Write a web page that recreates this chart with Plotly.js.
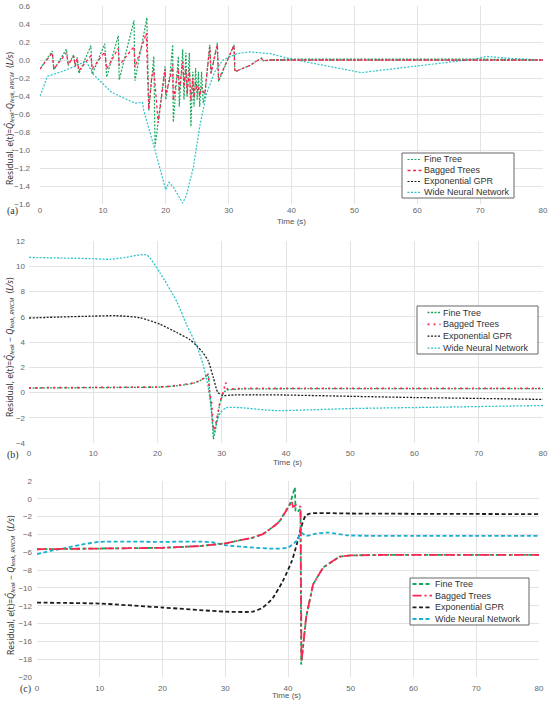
<!DOCTYPE html>
<html>
<head>
<meta charset="utf-8">
<script src="https://cdn.plot.ly/plotly-3.0.1.min.js"></script>
<style>html,body{margin:0;padding:0;background:#fff;}#chart{width:550px;height:701px;}</style>
</head>
<body>
<div id="chart"></div>
<script>
// ---------- Panel (a) ----------
const ftA_t = [0,1.95,2.2,4.2,4.5,5.35,5.6,5.9,6.2,8.1,8.3,10.3,10.6,12.45,12.6,14.95,15.1,17.0,17.3,17.75,18.1,18.3,19.9,20.0,20.7,21.1,21.2,22.0,22.15,22.7,22.9,23.2,23.4,23.75,24.0,24.3,24.5,24.75,25.0,25.2,25.4,25.7,25.95,26.2,27.0,27.2,28.2,28.4,30.85,31.0,33.4,34.7,35.2,35.5,36.5,40,50,60,70,80];
const ftA_v = [-0.1,0.1,-0.11,0.12,-0.06,0.06,-0.06,0.03,-0.15,0.16,-0.16,0.18,-0.19,0.27,-0.22,0.44,-0.23,0.47,-0.56,-0.22,0.04,-0.96,-0.07,-0.44,-0.15,0.17,-0.69,0.04,-0.52,0.12,-0.44,0.08,-0.41,0.08,-0.74,-0.13,-0.52,-0.09,-0.44,-0.13,-0.52,-0.13,-0.48,-0.41,0.17,-0.15,0.19,-0.24,0.17,-0.13,-0.06,0.0,0.02,-0.01,0.0,0.01,0.01,0.01,0.01,0.0];
const bgA_t = [0,1.95,2.2,4.2,4.5,5.35,5.6,5.9,6.2,8.1,8.3,10.3,10.6,12.45,12.6,14.95,15.1,16.9,17.3,17.75,18.1,18.8,19.9,20.0,20.7,21.1,21.2,22.0,22.15,22.7,22.9,23.2,23.4,23.75,24.0,24.3,24.5,24.75,25.0,25.2,25.4,25.7,25.95,26.2,27.0,27.2,28.2,28.4,30.85,31.0,33.4,34.7,35.2,35.5,36.5,40,50,60,70,80];
const bgA_v = [-0.1,0.08,-0.1,0.08,-0.05,0.04,-0.07,0.02,-0.12,0.05,-0.1,0.09,-0.1,0.13,-0.06,0.15,-0.08,0.3,-0.55,-0.2,-0.1,-0.7,-0.1,-0.38,-0.2,-0.05,-0.45,-0.1,-0.35,-0.02,-0.3,-0.1,-0.38,-0.1,-0.45,-0.2,-0.42,-0.25,-0.35,-0.3,-0.4,-0.3,-0.35,-0.38,0.15,-0.15,0.17,-0.22,0.16,-0.13,-0.06,0.0,0.02,-0.01,0.0,0.0,0.0,0.0,0.0,0.0];
const egA_t = [36.5,40,50,60,70,80];
const egA_v = [0.0,0.0,0.0,0.0,0.0,0.0];
const wnA_t = [0,1.2,3.4,5.6,7.3,8.5,11.4,13.0,15.1,16.3,16.5,18.0,19.1,20.0,20.5,21.2,22.7,23.3,24.4,25.4,26.5,27.8,29.1,31.3,33.4,36.6,40,51.1,69.2,71.0,74.4,80];
const wnA_v = [-0.4,-0.18,-0.13,-0.07,-0.01,-0.16,-0.36,-0.41,-0.48,-0.47,-0.56,-0.93,-1.22,-1.44,-1.36,-1.41,-1.59,-1.5,-1.19,-0.74,-0.37,-0.13,0.0,0.07,0.09,0.07,0.01,-0.14,0.01,0.04,0.02,0.0];

// ---------- Panel (b) ----------
const ftB_t = [0,10,20,22,24,25.5,26.5,27.3,27.9,28.1,28.4,28.7,29.1,29.7,30.3,31,33,40,50,60,70,80];
const ftB_v = [0.35,0.37,0.42,0.48,0.58,0.72,0.9,1.15,1.5,0.2,-1.4,-3.7,-2.7,-0.85,0.05,0.22,0.28,0.3,0.3,0.3,0.3,0.3];
const bgB_t = [0,10,20,22,24,25.5,26.5,27.3,27.9,28.1,28.4,28.75,29.1,29.7,30.3,30.6,30.9,31.5,33,40,50,60,70,80];
const bgB_v = [0.37,0.38,0.43,0.49,0.6,0.74,0.92,1.15,1.45,0.0,-0.7,-3.0,-2.4,-0.8,0.15,0.8,0.25,0.28,0.32,0.33,0.33,0.33,0.33,0.33];
const egB_t = [0,5,10,13.6,17.3,20.4,23.0,25.0,26.1,27.0,27.9,28.7,29.4,30.2,31.5,35,40,50,60,70,80];
const egB_v = [5.9,5.98,6.05,6.08,5.92,5.4,4.75,4.2,3.7,3.2,2.5,1.16,0.0,-0.24,-0.2,-0.18,-0.2,-0.3,-0.4,-0.47,-0.55];
const wnB_t = [0,5,10,12.6,15,18.3,20.4,23.0,24.5,26.1,27.1,27.9,28.4,28.8,29.2,29.8,30.7,32.8,38.3,50.2,64.2,80];
const wnB_v = [10.7,10.65,10.6,10.55,10.7,10.9,9.46,7.2,5.4,3.7,2.2,0.4,-1.5,-3.3,-2.4,-1.6,-1.2,-1.2,-1.43,-1.27,-1.16,-1.03];

// ---------- Panel (c) ----------
const ftC_t = [0,10,20,26,30,34.4,36.0,37.9,38.7,40.3,41.1,41.2,41.5,41.9,42.0,42.1,42.9,44.0,45.6,48.2,50,55,60,70,80];
const ftC_v = [-5.66,-5.6,-5.5,-5.3,-5.0,-4.35,-3.97,-3.0,-2.47,-0.6,1.27,-1.35,-1.5,-1.16,-1.7,-18.6,-13.3,-9.6,-7.7,-6.5,-6.35,-6.3,-6.3,-6.3,-6.3];
const bgC_t = [0,10,20,26,30,34.4,36.0,37.9,38.7,40.6,40.8,41.3,41.6,42.0,42.15,42.9,44.0,45.6,48.2,50,55,60,70,80];
const bgC_v = [-5.66,-5.6,-5.5,-5.3,-5.0,-4.35,-3.97,-3.0,-2.5,-0.3,-0.9,-0.7,-0.8,-0.9,-18.2,-13.2,-9.6,-7.7,-6.5,-6.35,-6.3,-6.3,-6.3,-6.3];
const egC_t = [0,10,20,30,34.4,36.0,37.6,39.2,40.6,41.4,42.1,42.8,43.5,50,60,70,80];
const egC_v = [-11.65,-11.76,-12.2,-12.66,-12.66,-12.2,-11.1,-9.2,-7.0,-5.1,-3.2,-1.9,-1.65,-1.65,-1.68,-1.7,-1.72];
const wnC_t = [0,2.5,4.7,7,10,20,26,28.1,30,34,37.9,40.0,41.4,42.1,42.9,44.5,46.4,49.6,60,70,80];
const wnC_v = [-6.2,-5.8,-5.5,-5.15,-4.83,-4.83,-4.8,-4.9,-5.2,-5.45,-5.6,-5.47,-4.7,-3.8,-4.16,-3.9,-3.79,-4.1,-4.16,-4.16,-4.16];

const seriesNames = ['Fine Tree','Bagged Trees','Exponential GPR','Wide Neural Network'];
const xTicks = [0,10,20,30,40,50,60,70,80];

const GREEN = '#13a85a', RED = '#ff2553', BLACK = '#1e1e1e', CYAN = '#2cc3c8', BLUE2 = '#1aaed0';
const SANS = '"Liberation Sans",Arial,sans-serif';

// styles per panel: [Fine Tree, Bagged Trees, Exponential GPR, Wide NN]
const styleA = [
  {color: GREEN, dash: '2px,1.5px', width: 1.2},
  {color: RED, dash: '3px,2.5px', width: 1.3},
  {color: BLACK, dash: '2px,1.5px', width: 1.2},
  {color: CYAN, dash: '2px,1.5px', width: 1.2}];
const styleB = [
  {color: GREEN, dash: '2px,1.5px', width: 1.3},
  {color: RED, dash: '2px,4px', width: 1.7},
  {color: BLACK, dash: '2px,1.5px', width: 1.3},
  {color: CYAN, dash: '2px,1.5px', width: 1.3}];
const styleC = [
  {color: GREEN, dash: '4px,2.5px', width: 1.8},
  {color: RED, dash: '9px,3px,2px,3px', width: 1.8},
  {color: BLACK, dash: '4px,2.5px', width: 1.8},
  {color: BLUE2, dash: '4px,2.5px', width: 1.8}];

function tr(x, y, idx, st, xa, ya, shape) {
  return {x: x, y: y, name: seriesNames[idx], type: 'scatter', mode: 'lines', xaxis: xa, yaxis: ya,
    showlegend: false,
    line: {color: st[idx].color, dash: st[idx].dash, width: st[idx].width, shape: shape || 'linear', smoothing: 0.6}};
}

const traces = [
  tr(egA_t, egA_v, 2, styleA, 'x', 'y'),
  tr(wnA_t, wnA_v, 3, styleA, 'x', 'y'),
  tr(ftA_t, ftA_v, 0, styleA, 'x', 'y'),
  tr(bgA_t, bgA_v, 1, styleA, 'x', 'y'),

  tr(egB_t, egB_v, 2, styleB, 'x2', 'y2', 'spline'),
  tr(wnB_t, wnB_v, 3, styleB, 'x2', 'y2', 'spline'),
  tr(ftB_t, ftB_v, 0, styleB, 'x2', 'y2'),
  tr(bgB_t, bgB_v, 1, styleB, 'x2', 'y2'),

  tr(egC_t, egC_v, 2, styleC, 'x3', 'y3', 'spline'),
  tr(wnC_t, wnC_v, 3, styleC, 'x3', 'y3', 'spline'),
  tr(ftC_t, ftC_v, 0, styleC, 'x3', 'y3'),
  tr(bgC_t, bgC_v, 1, styleC, 'x3', 'y3')
];

const W = 550, H = 701;
const px = v => v / W, py = v => 1 - v / H;
const tickFont = {family: SANS, size: 8, color: '#666'};
function xax(dom, anchor, standoff) {
  return {domain: [px(dom[0]), px(dom[1])], anchor: anchor, range: [0, 80], tickvals: xTicks,
    showgrid: true, gridcolor: '#e3e3e3', gridwidth: 1, zeroline: false, showline: false,
    ticks: '', tickfont: tickFont, ticklabelstandoff: standoff, fixedrange: true};
}
function yax(dom, anchor, range, dtick, fmt, standoff) {
  return {domain: [py(dom[1]), py(dom[0])], anchor: anchor, range: range, dtick: dtick, tick0: 0,
    tickformat: fmt, showgrid: true, gridcolor: '#e3e3e3', gridwidth: 1, zeroline: false,
    showline: false, ticks: '', tickfont: tickFont, ticklabelstandoff: standoff, fixedrange: true};
}

const yTitleA = 'Residual, e(t)=<i>Q̂</i><sub><i>leak</i></sub>-<i>Q</i><sub><i>leak, RWCM</i></sub>  (<i>L/s</i>)';
const yTitleB = 'Residual, e(t)=<i>Q̂</i><sub><i>leak</i></sub> − <i>Q</i><sub><i>leak, RWCM</i></sub>  (<i>L/s</i>)';
function ann(text, x, y, opts) {
  return Object.assign({text: text, x: px(x), y: py(y), xref: 'paper', yref: 'paper',
    showarrow: false, xanchor: 'center', yanchor: 'middle'}, opts);
}
const titleFont = {family: '"Noto Sans",sans-serif', size: 8.5, color: '#333'};
const annotations = [
  ann(yTitleA, 10, 119, {textangle: -90, font: titleFont}),
  ann(yTitleB, 9, 347, {textangle: -90, font: titleFont}),
  ann(yTitleB, 10, 585, {textangle: -90, font: titleFont}),
  ann('Time (s)', 291, 221, {font: {family: SANS, size: 8, color: '#555'}}),
  ann('Time (s)', 287, 462, {font: {family: SANS, size: 8, color: '#555'}}),
  ann('Time (s)', 286, 695, {font: {family: SANS, size: 8, color: '#555'}}),
  ann('(a)', 12, 211, {font: {family: '"Liberation Serif",serif', size: 10, color: '#333'}}),
  ann('(b)', 13, 455, {font: {family: '"Liberation Serif",serif', size: 10, color: '#333'}}),
  ann('(c)', 25, 689, {font: {family: '"Liberation Serif",serif', size: 10, color: '#333'}})
];

// manual legends (box, rows, sample lines, texts)
const shapes = [];
function addLegend(box, rows, sx0, sx1, tx, st) {
  shapes.push({type: 'rect', xref: 'paper', yref: 'paper', x0: px(box[0]), x1: px(box[1]),
    y0: py(box[3]), y1: py(box[2]), line: {color: '#666', width: 1}, fillcolor: '#fff', layer: 'above'});
  rows.forEach((ry, i) => {
    shapes.push({type: 'line', xref: 'paper', yref: 'paper', x0: px(sx0), x1: px(sx1), y0: py(ry), y1: py(ry),
      line: {color: st[i].color, dash: st[i].dash, width: st[i].width}, layer: 'above'});
    annotations.push(ann(seriesNames[i], tx, ry, {xanchor: 'left',
      font: {family: SANS, size: 9, color: '#333'}}));
  });
}
addLegend([402, 514, 153, 198], [159.5, 170.5, 181.5, 192.3], 407.5, 421.5, 421.5, styleA);
addLegend([417, 538, 306, 354], [312.5, 324.3, 336.2, 348.2], 427.5, 440.5, 440.5, styleB);
addLegend([410, 529, 578, 625], [584, 595.7, 607.3, 619], 412.5, 432, 433, styleC);

const layout = {
  width: W, height: H, margin: {l: 0, r: 0, t: 0, b: 0}, paper_bgcolor: '#fff', plot_bgcolor: '#fff',
  showlegend: false, hovermode: false,
  xaxis: xax([40, 543], 'y', 0),
  yaxis: yax([6, 204], 'x', [-1.6, 0.6], 0.2, '.1f', 9),
  xaxis2: xax([29, 543], 'y2', 4),
  yaxis2: yax([241, 443], 'x2', [-4, 12], 2, 'd', 3),
  xaxis3: xax([37, 539], 'y3', 5),
  yaxis3: yax([481, 677], 'x3', [-20, 2], 2, 'd', 4),
  shapes: shapes,
  annotations: annotations
};

Plotly.newPlot('chart', traces, layout, {staticPlot: true, displayModeBar: false});
</script>
</body>
</html>
